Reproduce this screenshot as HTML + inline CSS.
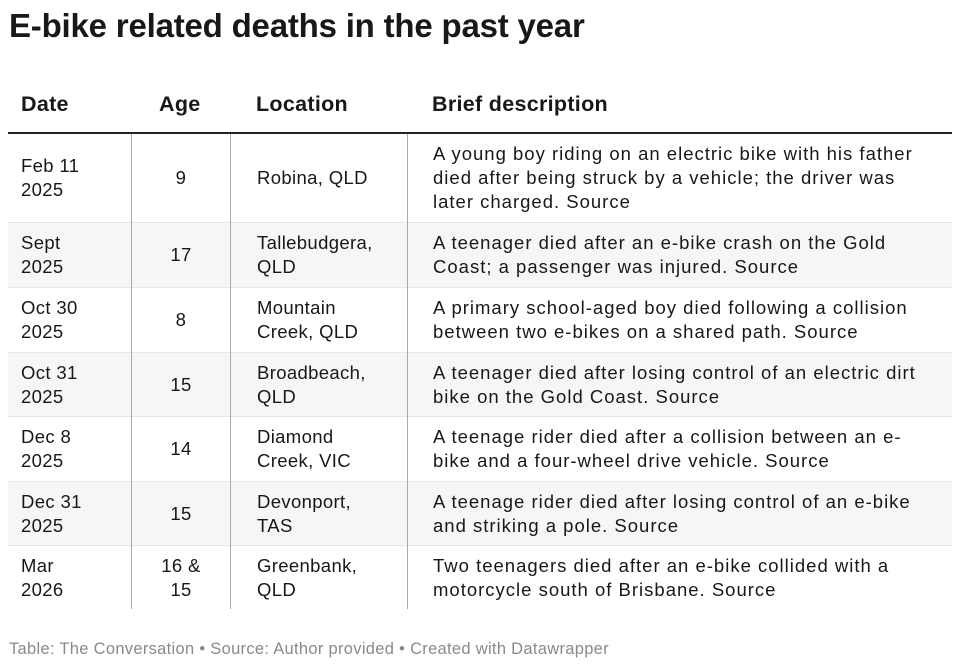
<!DOCTYPE html>
<html><head><meta charset="utf-8"><style>
body{margin:0;width:960px;height:669px;background:#fff;font-family:"Liberation Sans",sans-serif;color:#181818;position:relative;overflow:hidden}
.t{position:absolute;left:9px;top:7px;font-size:33px;font-weight:bold;letter-spacing:-0.2px}
.h{position:absolute;top:92px;font-size:21.5px;font-weight:bold;letter-spacing:0.3px}
.hl{position:absolute;left:8px;width:944px;top:132px;height:2px;background:#222}
.row{position:absolute;left:8px;width:944px;border-top:1px solid #e6e6e6}
.row.g{background:#f6f6f6}
.c{position:absolute;top:0;bottom:0;display:flex;align-items:center;font-size:18.5px;line-height:24px;letter-spacing:0.35px;white-space:nowrap}
.d{left:13px;width:110px}
.a{left:123px;width:100px;justify-content:center;text-align:center}
.l{left:249px;width:160px}
.s{left:425px;width:520px;letter-spacing:1px}
.v{position:absolute;top:134px;height:475px;width:1px;background:#aaa}
.f{position:absolute;left:9px;top:640px;font-size:16.5px;color:#8a8a8a;letter-spacing:0.3px}
</style></head><body>
<div class="t">E-bike related deaths in the past year</div>
<div class="h" style="left:21px">Date</div>
<div class="h" style="left:159px">Age</div>
<div class="h" style="left:256px">Location</div>
<div class="h" style="left:432px">Brief description</div>

<div class="row" style="top:134px;height:88px;border-top:none"><div class="c d">Feb 11<br>2025</div><div class="c a">9</div><div class="c l">Robina, QLD</div><div class="c s">A young boy riding on an electric bike with his father<br>died after being struck by a vehicle; the driver was<br>later charged. Source</div></div>
<div class="row g" style="top:222px;height:64px"><div class="c d">Sept<br>2025</div><div class="c a">17</div><div class="c l">Tallebudgera,<br>QLD</div><div class="c s">A teenager died after an e-bike crash on the Gold<br>Coast; a passenger was injured. Source</div></div>
<div class="row" style="top:287px;height:64px"><div class="c d">Oct 30<br>2025</div><div class="c a">8</div><div class="c l">Mountain<br>Creek, QLD</div><div class="c s">A primary school-aged boy died following a collision<br>between two e-bikes on a shared path. Source</div></div>
<div class="row g" style="top:352px;height:63px"><div class="c d">Oct 31<br>2025</div><div class="c a">15</div><div class="c l">Broadbeach,<br>QLD</div><div class="c s">A teenager died after losing control of an electric dirt<br>bike on the Gold Coast. Source</div></div>
<div class="row" style="top:416px;height:64px"><div class="c d">Dec 8<br>2025</div><div class="c a">14</div><div class="c l">Diamond<br>Creek, VIC</div><div class="c s">A teenage rider died after a collision between an e-<br>bike and a four-wheel drive vehicle. Source</div></div>
<div class="row g" style="top:481px;height:63px"><div class="c d">Dec 31<br>2025</div><div class="c a">15</div><div class="c l">Devonport,<br>TAS</div><div class="c s">A teenage rider died after losing control of an e-bike<br>and striking a pole. Source</div></div>
<div class="row" style="top:545px;height:64px"><div class="c d">Mar<br>2026</div><div class="c a">16 &amp;<br>15</div><div class="c l">Greenbank,<br>QLD</div><div class="c s">Two teenagers died after an e-bike collided with a<br>motorcycle south of Brisbane. Source</div></div>

<div class="hl"></div>
<div class="v" style="left:131px"></div>
<div class="v" style="left:230px"></div>
<div class="v" style="left:407px"></div>
<div class="f">Table: The Conversation • Source: Author provided • Created with Datawrapper</div>
</body></html>
